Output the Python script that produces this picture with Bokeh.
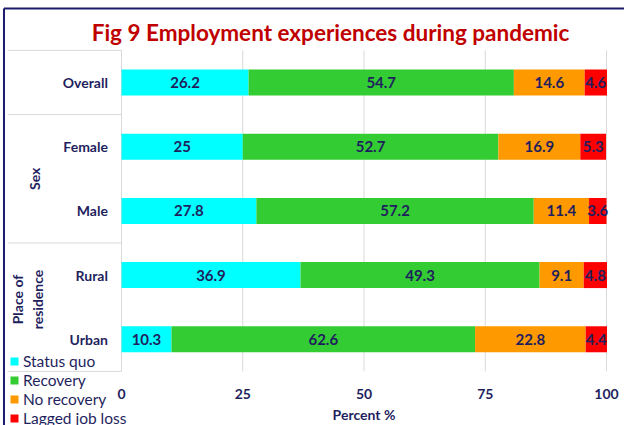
import math
from bokeh.plotting import figure
from bokeh.models import Range1d, ColumnDataSource, Legend, LegendItem
from bokeh.core.properties import value
from bokeh.embed import file_html
from bokeh.resources import INLINE

# ---- data ----
categories = ["Overall", "Female", "Male", "Rural", "Urban"]
series_names = ["Status quo", "Recovery", "No recovery", "Lagged job loss"]
status_quo = [26.2, 25, 27.8, 36.9, 10.3]
recovery = [54.7, 52.7, 57.2, 49.3, 62.6]
no_recovery = [14.6, 16.9, 11.4, 9.1, 22.8]
lagged_job_loss = [4.6, 5.3, 3.6, 4.8, 4.4]
x_ticks = [0, 25, 50, 75, 100]
x_tick_labels = ["0", "25", "50", "75", "100"]
group_labels = ["Sex", "Place of\nresidence"]
group_rows = [(1, 2), (3, 4)]
title_text = "Fig 9 Employment experiences during pandemic"
x_label = "Percent %"

# ---- styles ----
colors = ["#00FFFF", "#33CC33", "#FF9900", "#FF0000"]
navy = "#1F1F5E"
grid_col = "#D9D9D9"
FONT = "Lato"

rows = list(range(len(categories)))

p = figure(width=624, height=425,
           x_range=Range1d(-24.95, 103.71), y_range=Range1d(5.343, -1.277),
           output_backend="svg", toolbar_location=None,
           x_axis_location=None, y_axis_location=None,
           min_border=0, min_border_left=0, min_border_right=0,
           min_border_top=0, min_border_bottom=0,
           background_fill_color="white", border_fill_color="white")
p.xgrid.visible = False
p.ygrid.visible = False
p.outline_line_color = None

# frame-like border (navy) of the original figure
p.segment(x0=[-24.23, -24.23], y0=[-1.153, -1.153], x1=[-24.23, 104], y1=[5.4, -1.153],
          line_color="#1C1C6E", line_width=2)

# table lines on the left + vertical grid
top, bot = -0.5, len(categories) - 0.5
seps = [top, 0.5, 2.5, bot]
p.segment(x0=[-23.5] * len(seps), y0=seps, x1=[0] * len(seps), y1=seps,
          line_color=grid_col, line_width=1)
p.segment(x0=x_ticks, y0=[top] * len(x_ticks), x1=x_ticks, y1=[bot] * len(x_ticks),
          line_color=grid_col, line_width=1)

# stacked bars
all_series = [status_quo, recovery, no_recovery, lagged_job_loss]
left = [0.0] * len(categories)
legend_items = []
for name, vals, col in zip(series_names, all_series, colors):
    right = [l + v for l, v in zip(left, vals)]
    src = ColumnDataSource(dict(y=rows, left=left, right=right,
                                mid=[(l + r) / 2 for l, r in zip(left, right)],
                                txt=[f"{v:g}" for v in vals]))
    r = p.hbar(y="y", left="left", right="right", height=0.405, source=src,
               fill_color=col, line_color=None)
    p.text(x="mid", y="y", text="txt", source=src, text_align="center",
           text_baseline="middle", text_font=value(FONT), text_font_style="bold",
           text_font_size="15px", text_color=navy)
    legend_items.append(LegendItem(label=name, renderers=[r]))
    left = right

# category labels
p.text(x=[-2.8] * len(categories), y=rows, text=categories, text_align="right",
       text_baseline="middle", text_font=value(FONT), text_font_style="bold",
       text_font_size="14px", text_color=navy)

# group labels (rotated)
gx = [-17.9, -19.4]
gy = [(a + b) / 2 for a, b in group_rows]
gy[1] -= 0.12
p.text(x=gx, y=gy, text=group_labels, angle=math.pi / 2, text_align="center",
       text_baseline="middle", text_font=value(FONT), text_font_style="bold",
       text_font_size="14px", text_color=navy, text_line_height=1.15)

# title
p.text(x=[43.1], y=[-0.78], text=[title_text], text_align="center", text_baseline="middle",
       text_font=value(FONT), text_font_style="bold", text_font_size="22.5px",
       text_color="#C00000")

# x tick labels and axis title (drawn in data space along the value scale)
tick_y = bot + 0.36
p.text(x=x_ticks, y=[tick_y] * len(x_ticks), text=x_tick_labels, text_align="center",
       text_baseline="middle", text_font=value(FONT), text_font_style="bold",
       text_font_size="14px", text_color=navy)
p.text(x=[50], y=[tick_y + 0.31], text=[x_label], text_align="center",
       text_baseline="middle", text_font=value(FONT), text_font_style="bold",
       text_font_size="14px", text_color=navy)

legend = Legend(items=legend_items, location=(9, -2), orientation="vertical",
                glyph_width=10, glyph_height=10, label_height=19, spacing=0,
                padding=0, margin=0, label_standoff=4,
                background_fill_alpha=0, border_line_color=None,
                label_text_font=FONT, label_text_font_size="15.5px",
                label_text_color=navy)
p.add_layout(legend)

open("out.html", "w").write(file_html(p, INLINE))
